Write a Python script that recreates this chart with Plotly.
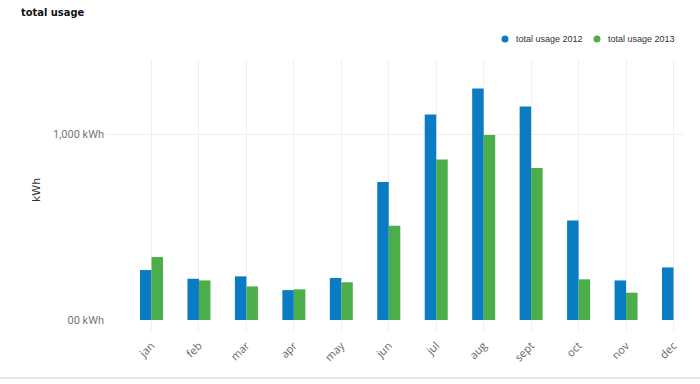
import plotly.graph_objects as go

months = ["jan", "feb", "mar", "apr", "may", "jun", "jul", "aug", "sept", "oct", "nov", "dec"]
usage_2012 = [269, 222, 235, 161, 226, 743, 1106, 1247, 1149, 536, 213, 283]
usage_2013 = [339, 213, 181, 165, 203, 507, 864, 996, 819, 219, 147, None]
y_tickvals = [0, 1000]
y_ticktext = ["00 kWh", "1,000 kWh"]
series_names = ["total usage 2012", "total usage 2013"]
colors = ["#0a7cc4", "#4bae4b"]

L, R, T, B = 105, 17, 60, 64
W, H = 700, 384
pw, ph = W - L - R, H - T - B


def px_x(x):
    return (x - L) / pw


def px_y(y):
    return (T + ph - y) / ph


fig = go.Figure()
for name, vals, col in zip(series_names, [usage_2012, usage_2013], colors):
    fig.add_trace(go.Bar(x=months, y=vals, name=name, marker_color=col,
                         marker_line_width=0, showlegend=False))

annotations = [dict(text="<b>total usage</b>", xref="paper", yref="paper",
                    x=px_x(19), xanchor="left", y=px_y(13), yanchor="middle",
                    showarrow=False,
                    font=dict(family="DejaVu Sans Condensed, DejaVu Sans, sans-serif", size=11, color="#111111"))]
shapes = [dict(type="line", xref="paper", yref="paper",
               x0=px_x(0), x1=px_x(W), y0=px_y(378), y1=px_y(378),
               line=dict(color="#e6e6e6", width=2))]

# legend (circle + label), positioned in pixels
legend_x = [505, 597]
for name, col, lx in zip(series_names, colors, legend_x):
    shapes.append(dict(type="circle", xref="paper", yref="paper",
                       x0=px_x(lx - 3.5), x1=px_x(lx + 3.5), y0=px_y(39 + 3.5), y1=px_y(39 - 3.5),
                       fillcolor=col, line=dict(width=0)))
    annotations.append(dict(text=name, xref="paper", yref="paper",
                            x=px_x(lx + 9), xanchor="left", y=px_y(39), yanchor="middle",
                            showarrow=False,
                            font=dict(family="Liberation Sans, Arial, sans-serif", size=9, color="#333333")))

fig.update_layout(
    width=W, height=H,
    margin=dict(l=L, r=R, t=T, b=B, autoexpand=False),
    paper_bgcolor="white", plot_bgcolor="white",
    barmode="group", bargap=0.515, bargroupgap=0,
    font=dict(family="DejaVu Sans, Verdana, sans-serif", size=11, color="#666666"),
    showlegend=False,
    annotations=annotations,
    shapes=shapes,
)
fig.update_xaxes(
    type="category", range=[-0.98, 11.2], automargin=False,
    showgrid=True, gridcolor="#f0f0f0", gridwidth=1,
    showline=False, zeroline=False, ticks="outside", ticklen=10, tickcolor="#f0f0f0",
    ticklabelstandoff=4, tickangle=-45,
    tickfont=dict(family="Open Sans, DejaVu Sans, sans-serif", size=11, color="#666666"),
)
fig.update_yaxes(
    range=[0, 1400], automargin=False,
    tickvals=y_tickvals, ticktext=y_ticktext,
    showgrid=True, gridcolor="#eeeeee", gridwidth=1,
    zeroline=False, showline=False, ticks="",
    tickfont=dict(family="Roboto, DejaVu Sans, sans-serif", size=11, color="#777777"),
    title=dict(text="kWh", standoff=10, font=dict(family="DejaVu Sans, sans-serif", size=11, color="#333333")),
)

fig.write_html("out.html", config={"displayModeBar": False},
               post_script="document.body.style.margin='0';document.body.style.overflow='hidden';")
